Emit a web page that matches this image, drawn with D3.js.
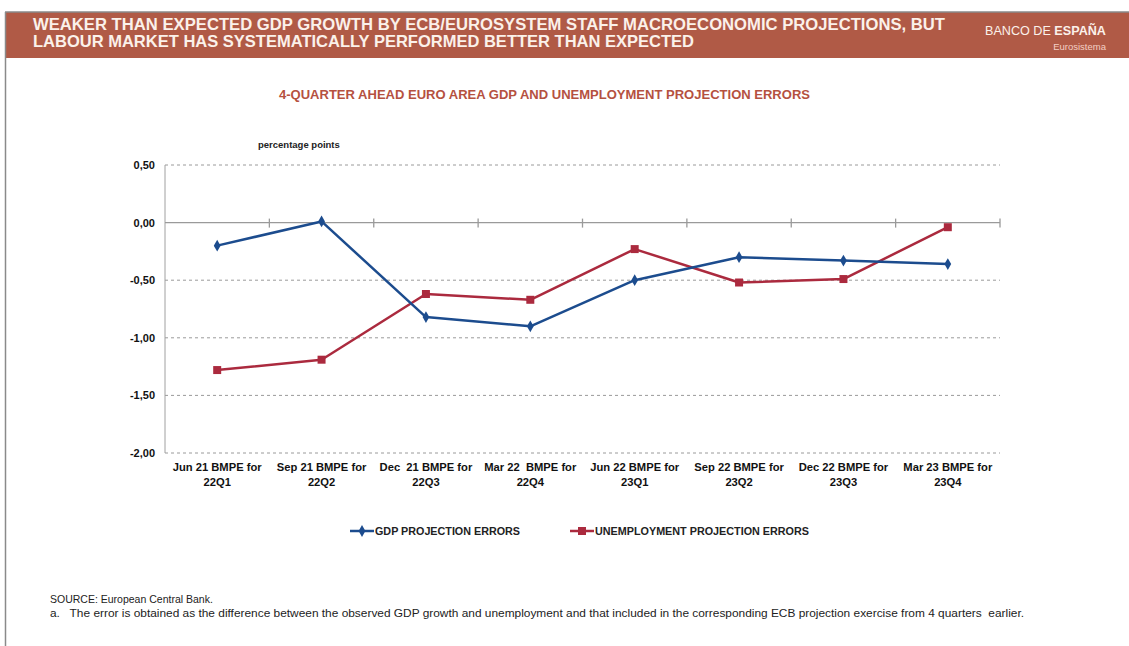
<!DOCTYPE html>
<html><head><meta charset="utf-8">
<script src="https://cdn.jsdelivr.net/npm/d3@7"></script>
<style>
html,body{margin:0;padding:0;background:#fff;}
svg{display:block;font-family:"Liberation Sans",Arial,sans-serif;}
</style></head>
<body>
<svg id="chart" width="1129" height="646"></svg>
<script>
const categories = [
  ["Jun 21 BMPE for","22Q1"],
  ["Sep 21 BMPE for","22Q2"],
  ["Dec  21 BMPE for","22Q3"],
  ["Mar 22  BMPE for","22Q4"],
  ["Jun 22 BMPE for","23Q1"],
  ["Sep 22 BMPE for","23Q2"],
  ["Dec 22 BMPE for","23Q3"],
  ["Mar 23 BMPE for","23Q4"]
];
const gdpErrors = [-0.20, 0.01, -0.82, -0.90, -0.50, -0.30, -0.33, -0.36];
const unemploymentErrors = [-1.28, -1.19, -0.62, -0.67, -0.23, -0.52, -0.49, -0.04];
const yTicks = [0.5, 0, -0.5, -1, -1.5, -2];
const seriesNames = ["GDP PROJECTION ERRORS", "UNEMPLOYMENT PROJECTION ERRORS"];

(function(){
const svg = d3.select("#chart");
const W = 1129, H = 646;
const blue = "#1c4c8e", red = "#ab2a3e";

// frame
svg.append("rect").attr("x",0).attr("y",0).attr("width",W).attr("height",H).attr("fill","#fff");
svg.append("rect").attr("x",5).attr("y",12).attr("width",W-5).attr("height",46).attr("fill","#b05a46");
svg.append("line").attr("x1",5).attr("x2",W).attr("y1",12).attr("y2",12).attr("stroke","#8a8a8a").attr("stroke-width",1.5);
svg.append("line").attr("x1",5.5).attr("x2",5.5).attr("y1",12).attr("y2",H).attr("stroke","#8a8a8a").attr("stroke-width",1.5);

const hdr = svg.append("g").attr("font-family","'Liberation Sans Narrow','Liberation Sans',Arial,sans-serif").attr("font-weight","bold").attr("fill","#fbf1ea");
hdr.append("text").attr("x",33).attr("y",30).attr("font-size",16.5).attr("textLength",912).attr("lengthAdjust","spacingAndGlyphs")
  .text("WEAKER THAN EXPECTED GDP GROWTH BY ECB/EUROSYSTEM STAFF MACROECONOMIC PROJECTIONS,  BUT");
hdr.append("text").attr("x",33).attr("y",47).attr("font-size",16.5).attr("textLength",661).attr("lengthAdjust","spacingAndGlyphs")
  .text("LABOUR MARKET HAS SYSTEMATICALLY PERFORMED BETTER THAN EXPECTED");

const logo = svg.append("text").attr("x",985).attr("y",35).attr("font-size",13).attr("fill","#fbf1ea")
  .attr("textLength",121).attr("lengthAdjust","spacingAndGlyphs");
logo.append("tspan").attr("font-weight","normal").text("BANCO DE ");
logo.append("tspan").attr("font-weight","bold").text("ESPAÑA");
svg.append("text").attr("x",1106).attr("y",50).attr("text-anchor","end").attr("font-size",9.5).attr("fill","#f3cfc4").text("Eurosistema");

// chart title
svg.append("text").attr("x",279).attr("y",99).attr("font-size",12.5).attr("font-weight","bold")
  .attr("textLength",531).attr("lengthAdjust","spacingAndGlyphs")
  .attr("fill","#b5513f").text("4-QUARTER AHEAD EURO AREA GDP AND UNEMPLOYMENT PROJECTION ERRORS");

const pL = 165, pR = 1000, pT = 165, pB = 453;
const x = d3.scaleBand().domain(d3.range(categories.length)).range([pL,pR]);
const y = d3.scaleLinear().domain([-2,0.5]).range([pB,pT]);

svg.append("text").attr("x",258).attr("y",148).attr("font-size",9.5).attr("font-weight","bold").attr("fill","#222").text("percentage points");

// grid
const grid = svg.append("g");
yTicks.filter(v=>v!==0).forEach(v=>{
  grid.append("line").attr("x1",pL).attr("x2",pR).attr("y1",y(v)).attr("y2",y(v))
    .attr("stroke","#9a9a9a").attr("stroke-width",1).attr("stroke-dasharray","3,3");
});
svg.append("line").attr("x1",pL).attr("x2",pL).attr("y1",pT).attr("y2",pB).attr("stroke","#a0a0a0").attr("stroke-width",1);
const yAxis = d3.axisLeft(y).tickValues(yTicks).tickSize(0).tickPadding(10)
  .tickFormat(d=>d3.format(".2f")(d).replace(".",",").replace("\u2212","-"));
const ya = svg.append("g").attr("transform",`translate(${pL},0)`).call(yAxis);
ya.select(".domain").remove();
ya.selectAll("text").attr("font-size",11).attr("font-weight","bold").attr("fill","#111").attr("font-family","'Liberation Sans',Arial,sans-serif");

// zero line with category ticks
svg.append("line").attr("x1",pL).attr("x2",pR).attr("y1",y(0)).attr("y2",y(0)).attr("stroke","#9a9a9a").attr("stroke-width",1.3);
d3.range(1,categories.length+1).forEach(i=>{
  const xx = i<categories.length ? x(i) : pR;
  svg.append("line").attr("x1",xx).attr("x2",xx).attr("y1",y(0)-4).attr("y2",y(0)+5).attr("stroke","#9a9a9a").attr("stroke-width",1.3);
});

// x labels
categories.forEach((c,i)=>{
  const cxx = x(i)+x.bandwidth()/2;
  const t = svg.append("text").attr("x",cxx).attr("y",471).attr("text-anchor","middle").attr("font-size",11.2).attr("font-weight","bold").attr("fill","#111").attr("xml:space","preserve");
  t.append("tspan").attr("x",cxx).attr("dy",0).text(c[0]);
  t.append("tspan").attr("x",cxx).attr("dy",14.5).text(c[1]);
});

const cx = i => x(i)+x.bandwidth()/2;
const line = d3.line().x((d,i)=>cx(i)).y(d=>y(d));
svg.append("path").datum(unemploymentErrors).attr("d",line).attr("fill","none").attr("stroke",red).attr("stroke-width",2.5).attr("stroke-linejoin","round");
svg.append("path").datum(gdpErrors).attr("d",line).attr("fill","none").attr("stroke",blue).attr("stroke-width",2.5).attr("stroke-linejoin","round");

const diamond = d3.symbol().type(d3.symbolDiamond).size(40);
const square = d3.symbol().type(d3.symbolSquare).size(64);
svg.selectAll(".gm").data(gdpErrors).enter().append("path").attr("d",diamond)
  .attr("transform",(d,i)=>`translate(${cx(i)},${y(d)})`).attr("fill",blue);
svg.selectAll(".um").data(unemploymentErrors).enter().append("path").attr("d",square)
  .attr("transform",(d,i)=>`translate(${cx(i)},${y(d)})`).attr("fill",red);

// legend
const lg = [{x:350,c:blue,s:diamond,n:seriesNames[0],w:145},{x:570,c:red,s:square,n:seriesNames[1],w:214}];
lg.forEach(l=>{
  svg.append("line").attr("x1",l.x).attr("x2",l.x+24).attr("y1",531).attr("y2",531).attr("stroke",l.c).attr("stroke-width",2.5);
  svg.append("path").attr("d",l.s).attr("transform",`translate(${l.x+12},531)`).attr("fill",l.c);
  svg.append("text").attr("x",l.x+25).attr("y",535).attr("font-size",10.6).attr("font-weight","bold").attr("fill","#222")
    .attr("textLength",l.w).attr("lengthAdjust","spacingAndGlyphs").text(l.n);
});

// footer
svg.append("text").attr("x",50).attr("y",603).attr("font-size",10.5).attr("fill","#222").text("SOURCE: European Central Bank.");
svg.append("text").attr("x",50).attr("y",617).attr("font-size",10.5).attr("fill","#222").attr("xml:space","preserve")
  .attr("textLength",974).attr("lengthAdjust","spacingAndGlyphs")
  .text("a.   The error is obtained as the difference between the observed GDP growth and unemployment and that included in the corresponding ECB projection exercise from 4 quarters  earlier.");
})();
</script>
</body></html>
